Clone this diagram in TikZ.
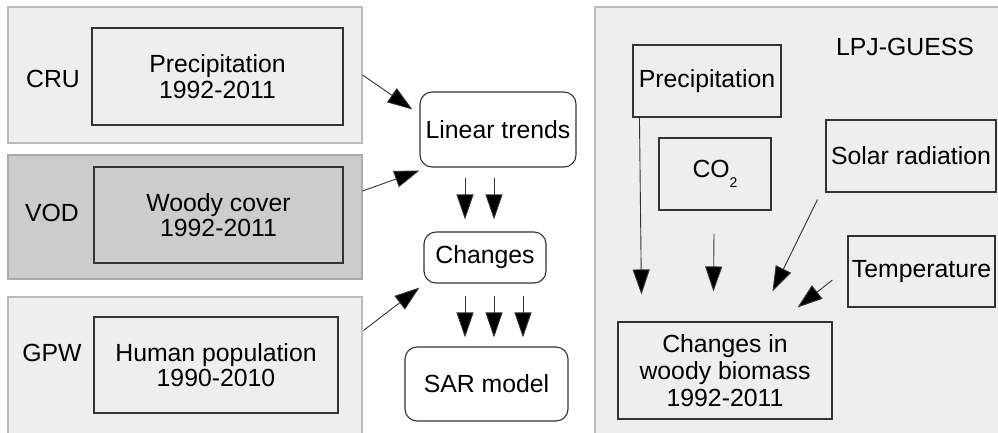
\documentclass[tikz,border=0pt]{standalone}
\usepackage{fontspec}
\setmainfont{Liberation Sans}
\usetikzlibrary{arrows.meta,calc}
\definecolor{panel}{HTML}{EEEEEE}
\definecolor{panelv}{HTML}{CCCCCC}
\definecolor{pborder}{HTML}{BBBBBB}
\definecolor{vborder}{HTML}{AAAAAA}
\definecolor{ink}{HTML}{333333}
\begin{document}
\begin{tikzpicture}[x=1pt,y=-1pt,
 panelbox/.style={draw=pborder, line width=1.2pt, fill=panel, inner sep=0pt},
 inbox/.style={draw=ink, line width=1.1pt, inner sep=0pt, align=center, font=\fontsize{24.8}{25.5}\selectfont},
 rbox/.style={inbox, rounded corners=12pt, fill=white},
 lbl/.style={inner sep=0pt, font=\fontsize{24.8}{25.5}\selectfont},
 arr/.style={draw=ink, line width=0.9pt, -{Triangle[length=25pt,width=17pt,fill=black]}}]
\clip (0,0) rectangle (998,432);
\fill[white] (0,0) rectangle (998,432);
% left panels
\node[panelbox, minimum width=354pt, minimum height=136pt] (cru) at (185,75) {};
\node[inbox, fill=panel, minimum width=251pt, minimum height=97pt] (cruin) at (217.5,76.5) {Precipitation\\1992-2011};
\node[lbl] (crul) at (53,79) {CRU};
\node[panelbox, fill=panelv, draw=vborder, minimum width=354pt, minimum height=124pt] (vod) at (185,217) {};
\node[inbox, fill=panelv, minimum width=249pt, minimum height=96pt] (vodin) at (218.5,215) {Woody cover\\1992-2011};
\node[lbl] (vodl) at (52,213) {VOD};
\node[panelbox, minimum width=354pt, minimum height=148pt] (gpw) at (185,371) {};
\node[inbox, fill=panel, minimum width=244pt, minimum height=96pt] (gpwin) at (216,365) {Human population\\1990-2010};
\node[lbl] (gpwl) at (52,353) {GPW};
% middle column
\node[rbox, minimum width=156pt, minimum height=75pt] (lt) at (498,129.5) {Linear trends};
\node[rbox, minimum width=122pt, minimum height=51pt] (ch) at (485,257.5) {Changes};
\node[rbox, minimum width=163pt, minimum height=74pt] (sar) at (486.5,384) {SAR model};
\draw[arr] (cru.east) -- ($(lt.north west)+(-7,18)$);
\draw[arr] ([yshift=26pt]vod.east) -- ($(lt.south west)+(0,3)$);
\draw[arr] ($(gpw.north east)+(1,34)$) -- ($(ch.south west)+(-4,4)$);
\foreach \dx in {-33,-4}
  \draw[arr] ($(lt.south)+(\dx,10)$) -- ($(ch.north)+(\dx+13,-12)$);
\foreach \dx in {-20,9,38}
  \draw[arr] ($(ch.south)+(\dx,12)$) -- ($(sar.north)+(\dx-1.5,-9)$);
% right panel
\node[panelbox, minimum width=415pt, minimum height=438pt] (lpj) at (802.5,226) {};
\node[lbl] (lpjl) at (905,47) {LPJ-GUESS};
\node[inbox, fill=panel, minimum width=148pt, minimum height=72pt] (p2) at (707,81) {Precipitation};
\node[inbox, fill=panel, minimum width=112pt, minimum height=72pt] (co2) at (715,174) {CO\raisebox{-0.4em}{\fontsize{14}{14}\selectfont 2}};
\node[inbox, fill=panel, minimum width=170pt, minimum height=72pt] (sol) at (911,156) {Solar radiation};
\node[inbox, fill=panel, minimum width=147pt, minimum height=71pt] (tmp) at (921.5,271.5) {Temperature};
\node[inbox, fill=panel, minimum width=214pt, minimum height=97pt, font=\fontsize{24.8}{27}\selectfont] (wb) at (725,370.5) {Changes in\\woody biomass\\1992-2011};
\draw[arr] ($(p2.south west)+(7,0)$) -- ($(wb.north west)+(24,-27)$);
\draw[arr] ($(co2.south)+(-1,23)$) -- ($(wb.north west)+(96,-30)$);
\draw[arr] ($(sol.south west)+(-8,7)$) -- ($(wb.north west)+(155,-30)$);
\draw[arr] ($(tmp.west)+(-15,8.5)$) -- ($(wb.north east)+(-35,-14)$);
\end{tikzpicture}
\end{document}
